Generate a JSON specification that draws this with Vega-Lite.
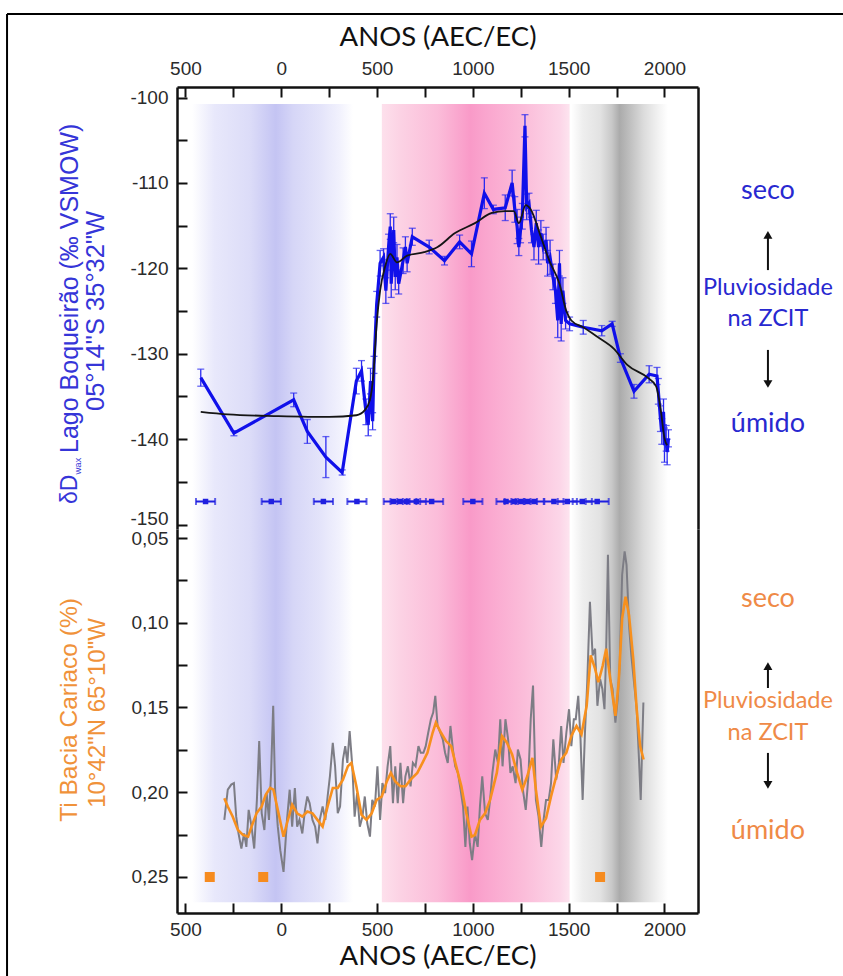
{
  "$schema": "https://vega.github.io/schema/vega-lite/v6.json",
  "autosize": {"type": "pad"},
  "padding": {"left": 6, "top": 12, "right": 0, "bottom": 0},
  "background": "white",
  "bounds": "flush",
  "spacing": 0,
  "config": {
    "view": {"stroke": null},
    "axis": {
      "labelFont": "Liberation Sans", "labelFontSize": 19, "labelColor": "#2b2b2b",
      "tickSize": -10, "tickWidth": 2, "tickColor": "#111111",
      "domainColor": "#111111", "domainWidth": 2.5, "grid": false,
      "labelFlush": false, "labelOverlap": false, "labelPadding": 19,
      "titleFont": "Lato", "titleFontSize": 27.5, "titleFontWeight": "normal", "titleColor": "#111111"
    }
  },
  "datasets": {
    "periods": [
      {"period": "blue", "year": -465, "year2": 375},
      {"period": "pink", "year": 525, "year2": 1505},
      {"period": "gray", "year": 1514, "year2": 2018}
    ],
    "delta": [
      {"year": -420, "d": -132.8, "err": 1.0}, {"year": -247, "d": -139.3, "err": 0.3}, {"year": 65, "d": -135.4, "err": 0.8},
      {"year": 136, "d": -139.1, "err": 1.4}, {"year": 233, "d": -142.1, "err": 2.4}, {"year": 318, "d": -143.9, "err": 0.3},
      {"year": 392, "d": -133.2, "err": 1.5}, {"year": 419, "d": -132.0, "err": 1.2}, {"year": 442, "d": -136.8, "err": 1.5},
      {"year": 454, "d": -138.3, "err": 1.3}, {"year": 466, "d": -133.2, "err": 1.5}, {"year": 477, "d": -137.9, "err": 1.0},
      {"year": 484, "d": -131.3, "err": 1.0}, {"year": 498, "d": -124.2, "err": 1.5}, {"year": 516, "d": -119.4, "err": 1.5},
      {"year": 534, "d": -118.7, "err": 1.0}, {"year": 546, "d": -122.6, "err": 1.5}, {"year": 560, "d": -117.5, "err": 1.5},
      {"year": 569, "d": -115.1, "err": 1.5}, {"year": 574, "d": -121.8, "err": 1.6}, {"year": 587, "d": -115.5, "err": 1.5},
      {"year": 595, "d": -121.0, "err": 1.5}, {"year": 604, "d": -118.7, "err": 1.5}, {"year": 613, "d": -121.8, "err": 1.2},
      {"year": 636, "d": -119.1, "err": 1.5}, {"year": 648, "d": -117.5, "err": 1.2}, {"year": 657, "d": -119.4, "err": 1.0},
      {"year": 684, "d": -116.3, "err": 1.0}, {"year": 772, "d": -117.5, "err": 0.8}, {"year": 852, "d": -119.1, "err": 0.5},
      {"year": 931, "d": -116.9, "err": 0.8}, {"year": 993, "d": -118.3, "err": 1.5}, {"year": 1060, "d": -111.2, "err": 1.8},
      {"year": 1107, "d": -113.1, "err": 0.5}, {"year": 1169, "d": -112.9, "err": 1.5}, {"year": 1205, "d": -110.0, "err": 1.5},
      {"year": 1219, "d": -113.1, "err": 1.5}, {"year": 1231, "d": -115.1, "err": 2.0}, {"year": 1240, "d": -117.5, "err": 1.0},
      {"year": 1249, "d": -115.5, "err": 1.5}, {"year": 1258, "d": -113.9, "err": 1.5}, {"year": 1272, "d": -103.3, "err": 1.3},
      {"year": 1281, "d": -112.8, "err": 1.5}, {"year": 1293, "d": -112.4, "err": 1.2}, {"year": 1306, "d": -115.5, "err": 1.5},
      {"year": 1319, "d": -117.5, "err": 1.5}, {"year": 1331, "d": -114.7, "err": 1.5}, {"year": 1343, "d": -117.5, "err": 2.0},
      {"year": 1355, "d": -115.9, "err": 1.5}, {"year": 1367, "d": -117.5, "err": 1.5}, {"year": 1382, "d": -116.7, "err": 1.5},
      {"year": 1390, "d": -119.4, "err": 1.5}, {"year": 1403, "d": -118.7, "err": 2.0}, {"year": 1418, "d": -121.0, "err": 1.5},
      {"year": 1431, "d": -122.6, "err": 1.5}, {"year": 1443, "d": -126.1, "err": 2.0}, {"year": 1452, "d": -119.4, "err": 1.5},
      {"year": 1461, "d": -126.5, "err": 2.0}, {"year": 1470, "d": -122.6, "err": 1.5}, {"year": 1484, "d": -126.1, "err": 1.0},
      {"year": 1505, "d": -126.5, "err": 0.8}, {"year": 1576, "d": -126.9, "err": 0.8}, {"year": 1673, "d": -127.3, "err": 0.6},
      {"year": 1727, "d": -126.5, "err": 0.3}, {"year": 1770, "d": -130.5, "err": 0.5}, {"year": 1841, "d": -134.4, "err": 0.8},
      {"year": 1920, "d": -132.4, "err": 1.0}, {"year": 1961, "d": -132.6, "err": 1.0}, {"year": 1968, "d": -134.4, "err": 1.5},
      {"year": 1979, "d": -137.6, "err": 1.5}, {"year": 1986, "d": -139.1, "err": 1.5}, {"year": 1995, "d": -136.8, "err": 1.5},
      {"year": 2000, "d": -140.7, "err": 2.0}, {"year": 2009, "d": -139.9, "err": 1.5}, {"year": 2014, "d": -141.5, "err": 1.5},
      {"year": 2021, "d": -139.9, "err": 1.0}
    ],
    "deltaFit": [
      {"year": -420, "d": -136.8}, {"year": -279, "d": -137.1}, {"year": -14, "d": -137.3}, {"year": 251, "d": -137.4},
      {"year": 392, "d": -137.2}, {"year": 436, "d": -136.6}, {"year": 463, "d": -135.4}, {"year": 481, "d": -132.4},
      {"year": 498, "d": -126.5}, {"year": 516, "d": -122.6}, {"year": 542, "d": -119.8}, {"year": 569, "d": -118.3},
      {"year": 604, "d": -119.3}, {"year": 657, "d": -118.5}, {"year": 746, "d": -118.1}, {"year": 816, "d": -117.5},
      {"year": 905, "d": -115.9}, {"year": 1011, "d": -114.7}, {"year": 1099, "d": -113.5}, {"year": 1169, "d": -113.3},
      {"year": 1214, "d": -113.3}, {"year": 1240, "d": -114.7}, {"year": 1276, "d": -112.6}, {"year": 1302, "d": -113.1},
      {"year": 1355, "d": -116.3}, {"year": 1399, "d": -119.1}, {"year": 1452, "d": -121.8}, {"year": 1488, "d": -125.0},
      {"year": 1514, "d": -126.1}, {"year": 1576, "d": -126.9}, {"year": 1655, "d": -128.1}, {"year": 1735, "d": -129.4},
      {"year": 1806, "d": -131.3}, {"year": 1912, "d": -132.8}, {"year": 1956, "d": -133.8}, {"year": 1982, "d": -136.8},
      {"year": 2000, "d": -139.9}, {"year": 2014, "d": -140.7}
    ],
    "ages": [
      {"year": -395, "lo": -445, "hi": -345}, {"year": -52, "lo": -102, "hi": -2}, {"year": 220, "lo": 170, "hi": 270},
      {"year": 395, "lo": 345, "hi": 445}, {"year": 585, "lo": 535, "hi": 635}, {"year": 620, "lo": 570, "hi": 670},
      {"year": 655, "lo": 605, "hi": 705}, {"year": 705, "lo": 655, "hi": 755}, {"year": 785, "lo": 725, "hi": 845},
      {"year": 1000, "lo": 950, "hi": 1050}, {"year": 1173, "lo": 1123, "hi": 1223}, {"year": 1216, "lo": 1166, "hi": 1266},
      {"year": 1251, "lo": 1201, "hi": 1301}, {"year": 1285, "lo": 1235, "hi": 1335}, {"year": 1320, "lo": 1270, "hi": 1370},
      {"year": 1423, "lo": 1373, "hi": 1473}, {"year": 1493, "lo": 1443, "hi": 1543}, {"year": 1571, "lo": 1521, "hi": 1621},
      {"year": 1649, "lo": 1589, "hi": 1709}
    ],
    "tiRaw": [
      {"year": -297, "ti": 0.2163}, {"year": -279, "ti": 0.1985}, {"year": -261, "ti": 0.1955}, {"year": -247, "ti": 0.1946},
      {"year": -235, "ti": 0.2144}, {"year": -223, "ti": 0.2243}, {"year": -208, "ti": 0.2332}, {"year": -194, "ti": 0.2243},
      {"year": -182, "ti": 0.2322}, {"year": -170, "ti": 0.2104}, {"year": -155, "ti": 0.2203}, {"year": -141, "ti": 0.2332},
      {"year": -127, "ti": 0.2045}, {"year": -115, "ti": 0.1698}, {"year": -102, "ti": 0.2124}, {"year": -88, "ti": 0.2223},
      {"year": -76, "ti": 0.2005}, {"year": -64, "ti": 0.2163}, {"year": -53, "ti": 0.1886}, {"year": -42, "ti": 0.1490},
      {"year": -32, "ti": 0.1985}, {"year": -18, "ti": 0.2203}, {"year": -5, "ti": 0.2342}, {"year": 12, "ti": 0.2470},
      {"year": 30, "ti": 0.2163}, {"year": 44, "ti": 0.1985}, {"year": 57, "ti": 0.2203}, {"year": 71, "ti": 0.1975},
      {"year": 83, "ti": 0.2203}, {"year": 95, "ti": 0.2163}, {"year": 110, "ti": 0.2243}, {"year": 124, "ti": 0.2104},
      {"year": 136, "ti": 0.2025}, {"year": 148, "ti": 0.2064}, {"year": 163, "ti": 0.2163}, {"year": 177, "ti": 0.2203},
      {"year": 189, "ti": 0.2302}, {"year": 201, "ti": 0.2163}, {"year": 216, "ti": 0.2084}, {"year": 230, "ti": 0.2163},
      {"year": 242, "ti": 0.2025}, {"year": 254, "ti": 0.1906}, {"year": 269, "ti": 0.1708}, {"year": 281, "ti": 0.1847},
      {"year": 295, "ti": 0.2124}, {"year": 307, "ti": 0.2084}, {"year": 322, "ti": 0.1807}, {"year": 334, "ti": 0.1728},
      {"year": 345, "ti": 0.1827}, {"year": 357, "ti": 0.1639}, {"year": 371, "ti": 0.1847}, {"year": 383, "ti": 0.2144},
      {"year": 396, "ti": 0.2005}, {"year": 410, "ti": 0.2203}, {"year": 424, "ti": 0.2144}, {"year": 436, "ti": 0.2025},
      {"year": 449, "ti": 0.2183}, {"year": 463, "ti": 0.2262}, {"year": 475, "ti": 0.2045}, {"year": 489, "ti": 0.2084},
      {"year": 502, "ti": 0.1847}, {"year": 516, "ti": 0.2163}, {"year": 528, "ti": 0.1946}, {"year": 542, "ti": 0.2005},
      {"year": 555, "ti": 0.1847}, {"year": 569, "ti": 0.1728}, {"year": 583, "ti": 0.2064}, {"year": 595, "ti": 0.1847},
      {"year": 608, "ti": 0.2064}, {"year": 622, "ti": 0.1827}, {"year": 636, "ti": 0.2064}, {"year": 648, "ti": 0.1906},
      {"year": 661, "ti": 0.1847}, {"year": 675, "ti": 0.1965}, {"year": 687, "ti": 0.1827}, {"year": 701, "ti": 0.1847},
      {"year": 716, "ti": 0.1728}, {"year": 728, "ti": 0.1767}, {"year": 742, "ti": 0.1767}, {"year": 754, "ti": 0.1728},
      {"year": 767, "ti": 0.1649}, {"year": 781, "ti": 0.1569}, {"year": 793, "ti": 0.1530}, {"year": 804, "ti": 0.1431},
      {"year": 816, "ti": 0.1609}, {"year": 830, "ti": 0.1649}, {"year": 843, "ti": 0.1688}, {"year": 855, "ti": 0.1767},
      {"year": 869, "ti": 0.1827}, {"year": 883, "ti": 0.1609}, {"year": 896, "ti": 0.1748}, {"year": 908, "ti": 0.1847},
      {"year": 922, "ti": 0.1886}, {"year": 936, "ti": 0.1985}, {"year": 949, "ti": 0.2084}, {"year": 961, "ti": 0.2322},
      {"year": 972, "ti": 0.2084}, {"year": 984, "ti": 0.2302}, {"year": 996, "ti": 0.2401}, {"year": 1011, "ti": 0.2243},
      {"year": 1025, "ti": 0.2322}, {"year": 1037, "ti": 0.2084}, {"year": 1049, "ti": 0.1906}, {"year": 1064, "ti": 0.2124},
      {"year": 1078, "ti": 0.2163}, {"year": 1090, "ti": 0.2045}, {"year": 1102, "ti": 0.1886}, {"year": 1117, "ti": 0.1748},
      {"year": 1131, "ti": 0.1827}, {"year": 1143, "ti": 0.1569}, {"year": 1155, "ti": 0.1847}, {"year": 1170, "ti": 0.1569},
      {"year": 1184, "ti": 0.1688}, {"year": 1196, "ti": 0.1886}, {"year": 1208, "ti": 0.1847}, {"year": 1223, "ti": 0.1946},
      {"year": 1235, "ti": 0.1748}, {"year": 1249, "ti": 0.1807}, {"year": 1261, "ti": 0.1985}, {"year": 1276, "ti": 0.2104},
      {"year": 1290, "ti": 0.1906}, {"year": 1302, "ti": 0.1569}, {"year": 1314, "ti": 0.1371}, {"year": 1329, "ti": 0.2045},
      {"year": 1343, "ti": 0.2144}, {"year": 1357, "ti": 0.2322}, {"year": 1369, "ti": 0.2163}, {"year": 1382, "ti": 0.2045},
      {"year": 1396, "ti": 0.2045}, {"year": 1408, "ti": 0.1946}, {"year": 1420, "ti": 0.1688}, {"year": 1435, "ti": 0.1926},
      {"year": 1449, "ti": 0.1827}, {"year": 1461, "ti": 0.1609}, {"year": 1473, "ti": 0.1827}, {"year": 1488, "ti": 0.1649},
      {"year": 1502, "ti": 0.1510}, {"year": 1514, "ti": 0.1728}, {"year": 1527, "ti": 0.1569}, {"year": 1537, "ti": 0.1569},
      {"year": 1550, "ti": 0.1431}, {"year": 1562, "ti": 0.1688}, {"year": 1573, "ti": 0.2045}, {"year": 1585, "ti": 0.1649},
      {"year": 1597, "ti": 0.1351}, {"year": 1611, "ti": 0.0876}, {"year": 1625, "ti": 0.1193}, {"year": 1638, "ti": 0.1153},
      {"year": 1650, "ti": 0.1490}, {"year": 1664, "ti": 0.1332}, {"year": 1676, "ti": 0.1391}, {"year": 1687, "ti": 0.1510},
      {"year": 1696, "ti": 0.1153}, {"year": 1705, "ti": 0.0599}, {"year": 1717, "ti": 0.1332}, {"year": 1729, "ti": 0.1391},
      {"year": 1744, "ti": 0.1589}, {"year": 1756, "ti": 0.1450}, {"year": 1767, "ti": 0.1233}, {"year": 1779, "ti": 0.0718},
      {"year": 1792, "ti": 0.0579}, {"year": 1802, "ti": 0.0658}, {"year": 1815, "ti": 0.1015}, {"year": 1827, "ti": 0.1193},
      {"year": 1841, "ti": 0.1351}, {"year": 1855, "ti": 0.1510}, {"year": 1867, "ti": 0.1807}, {"year": 1876, "ti": 0.2045},
      {"year": 1890, "ti": 0.1470}
    ],
    "tiFit": [
      {"year": -297, "ti": 0.2035}, {"year": -279, "ti": 0.2084}, {"year": -253, "ti": 0.2144}, {"year": -226, "ti": 0.2223},
      {"year": -200, "ti": 0.2252}, {"year": -173, "ti": 0.2262}, {"year": -155, "ti": 0.2203}, {"year": -129, "ti": 0.2124},
      {"year": -102, "ti": 0.2084}, {"year": -81, "ti": 0.2015}, {"year": -58, "ti": 0.1975}, {"year": -41, "ti": 0.1985},
      {"year": -14, "ti": 0.2124}, {"year": 12, "ti": 0.2262}, {"year": 30, "ti": 0.2183}, {"year": 57, "ti": 0.2074},
      {"year": 83, "ti": 0.2124}, {"year": 110, "ti": 0.2144}, {"year": 136, "ti": 0.2114}, {"year": 163, "ti": 0.2124},
      {"year": 189, "ti": 0.2163}, {"year": 216, "ti": 0.2203}, {"year": 242, "ti": 0.2084}, {"year": 269, "ti": 0.1975},
      {"year": 295, "ti": 0.1975}, {"year": 322, "ti": 0.1926}, {"year": 348, "ti": 0.1846}, {"year": 366, "ti": 0.1827},
      {"year": 392, "ti": 0.1965}, {"year": 419, "ti": 0.2134}, {"year": 445, "ti": 0.2163}, {"year": 472, "ti": 0.2124},
      {"year": 498, "ti": 0.2045}, {"year": 525, "ti": 0.2025}, {"year": 551, "ti": 0.1936}, {"year": 572, "ti": 0.1886},
      {"year": 595, "ti": 0.1936}, {"year": 622, "ti": 0.1965}, {"year": 648, "ti": 0.1965}, {"year": 675, "ti": 0.1926},
      {"year": 710, "ti": 0.1886}, {"year": 737, "ti": 0.1827}, {"year": 763, "ti": 0.1767}, {"year": 790, "ti": 0.1649},
      {"year": 807, "ti": 0.1589}, {"year": 834, "ti": 0.1649}, {"year": 860, "ti": 0.1698}, {"year": 887, "ti": 0.1728},
      {"year": 913, "ti": 0.1846}, {"year": 940, "ti": 0.1965}, {"year": 966, "ti": 0.2124}, {"year": 993, "ti": 0.2262},
      {"year": 1011, "ti": 0.2252}, {"year": 1037, "ti": 0.2163}, {"year": 1064, "ti": 0.2124}, {"year": 1090, "ti": 0.2045},
      {"year": 1125, "ti": 0.1886}, {"year": 1152, "ti": 0.1668}, {"year": 1178, "ti": 0.1708}, {"year": 1205, "ti": 0.1777},
      {"year": 1231, "ti": 0.1886}, {"year": 1258, "ti": 0.1985}, {"year": 1284, "ti": 0.1906}, {"year": 1311, "ti": 0.1797},
      {"year": 1329, "ti": 0.1985}, {"year": 1355, "ti": 0.2203}, {"year": 1382, "ti": 0.2154}, {"year": 1408, "ti": 0.2025},
      {"year": 1435, "ti": 0.1906}, {"year": 1461, "ti": 0.1807}, {"year": 1488, "ti": 0.1767}, {"year": 1514, "ti": 0.1668},
      {"year": 1541, "ti": 0.1609}, {"year": 1567, "ti": 0.1658}, {"year": 1594, "ti": 0.1490}, {"year": 1615, "ti": 0.1193},
      {"year": 1638, "ti": 0.1272}, {"year": 1655, "ti": 0.1351}, {"year": 1678, "ti": 0.1252}, {"year": 1696, "ti": 0.1153},
      {"year": 1717, "ti": 0.1332}, {"year": 1744, "ti": 0.1549}, {"year": 1761, "ti": 0.1351}, {"year": 1779, "ti": 0.0975},
      {"year": 1797, "ti": 0.0847}, {"year": 1815, "ti": 0.0955}, {"year": 1837, "ti": 0.1213}, {"year": 1855, "ti": 0.1510},
      {"year": 1873, "ti": 0.1728}, {"year": 1891, "ti": 0.1807}
    ],
    "tiAges": [{"year": -373}, {"year": -94}, {"year": 1664}]
  },
  "vconcat": [
    {
      "width": 521,
      "height": 442,
      "resolve": {"axis": {"y": "independent"}},
      "layer": [
        {
          "layer": [
            {
              "data": {"name": "periods"},
              "transform": [{"filter": "datum.period === 'blue'"}],
              "mark": {"type": "rect", "fill": {"gradient": "linear", "x1": 0, "y1": 0, "x2": 1, "y2": 0, "stops": [
                {"offset": 0, "color": "#ffffff"}, {"offset": 0.14, "color": "#e8e8fb"}, {"offset": 0.36, "color": "#dcdcf8"},
                {"offset": 0.52, "color": "#c4c4f3"}, {"offset": 0.63, "color": "#d6d6f7"}, {"offset": 0.8, "color": "#e4e4fa"},
                {"offset": 0.92, "color": "#f2f2fd"}, {"offset": 1, "color": "#ffffff"}]}},
              "encoding": {
                "x": {"field": "year", "type": "quantitative", "scale": {"domain": [-544, 2175], "nice": false, "zero": false},
                  "axis": {"orient": "top", "values": [-500, -250, 0, 250, 500, 750, 1000, 1250, 1500, 1750, 2000],
                    "labelExpr": "datum.value % 500 === 0 ? '' + abs(datum.value) : ''", "title": "ANOS (AEC/EC)", "titlePadding": 8}},
                "x2": {"field": "year2"},
                "y": {"datum": -100.75, "type": "quantitative", "scale": {"domain": [-150.52, -98.76], "nice": false, "zero": false},
                  "axis": {"orient": "left", "values": [-150, -145, -140, -135, -130, -125, -120, -115, -110, -105, -100],
                    "labelExpr": "datum.value % 10 === 0 ? '' + datum.value : ''", "title": null,
                    "labelBaseline": {"condition": {"test": "datum.value === -150", "value": "alphabetic"}, "value": "middle"}}},
                "y2": {"datum": -150.52}
              }
            },
            {
              "data": {"name": "periods"},
              "transform": [{"filter": "datum.period === 'pink'"}],
              "mark": {"type": "rect", "fill": {"gradient": "linear", "x1": 0, "y1": 0, "x2": 1, "y2": 0, "stops": [
                {"offset": 0, "color": "#fde0ec"}, {"offset": 0.1, "color": "#fcd2e4"}, {"offset": 0.3, "color": "#fbbcd9"},
                {"offset": 0.47, "color": "#f99ac8"}, {"offset": 0.55, "color": "#faa5ce"}, {"offset": 0.75, "color": "#fbbcd9"},
                {"offset": 0.95, "color": "#fcd6e8"}, {"offset": 1, "color": "#fde4ef"}]}},
              "encoding": {"x": {"field": "year", "type": "quantitative"}, "x2": {"field": "year2"}, "y": {"datum": -100.75}, "y2": {"datum": -150.52}}
            },
            {
              "data": {"name": "periods"},
              "transform": [{"filter": "datum.period === 'gray'"}],
              "mark": {"type": "rect", "fill": {"gradient": "linear", "x1": 0, "y1": 0, "x2": 1, "y2": 0, "stops": [
                {"offset": 0, "color": "#ffffff"}, {"offset": 0.12, "color": "#eeeeee"}, {"offset": 0.3, "color": "#e2e2e2"},
                {"offset": 0.42, "color": "#c8c8c8"}, {"offset": 0.5, "color": "#ababab"}, {"offset": 0.58, "color": "#bababa"},
                {"offset": 0.75, "color": "#dcdcdc"}, {"offset": 0.9, "color": "#f2f2f2"}, {"offset": 1, "color": "#ffffff"}]}},
              "encoding": {"x": {"field": "year", "type": "quantitative"}, "x2": {"field": "year2"}, "y": {"datum": -100.75}, "y2": {"datum": -150.52}}
            },
            {
              "data": {"name": "delta"},
              "mark": {"type": "errorbar", "color": "#2a2af0", "thickness": 1.3, "ticks": {"size": 7}},
              "encoding": {
                "x": {"field": "year", "type": "quantitative"},
                "y": {"field": "d", "type": "quantitative"},
                "yError": {"field": "err"}
              }
            },
            {
              "data": {"name": "delta"},
              "mark": {"type": "line", "color": "#1010ea", "strokeWidth": 3.2},
              "encoding": {"x": {"field": "year", "type": "quantitative"}, "y": {"field": "d", "type": "quantitative"}}
            },
            {
              "data": {"name": "deltaFit"},
              "mark": {"type": "line", "color": "#151515", "strokeWidth": 1.8, "interpolate": "monotone"},
              "encoding": {"x": {"field": "year", "type": "quantitative"}, "y": {"field": "d", "type": "quantitative"}}
            },
            {
              "data": {"name": "ages"},
              "mark": {"type": "rule", "color": "#1f1fe0", "strokeWidth": 2},
              "encoding": {"x": {"field": "lo", "type": "quantitative"}, "x2": {"field": "hi"}, "y": {"datum": -147.3}}
            },
            {
              "data": {"name": "ages"},
              "mark": {"type": "tick", "orient": "vertical", "color": "#1f1fe0", "size": 7, "thickness": 2},
              "encoding": {"x": {"field": "lo", "type": "quantitative"}, "y": {"datum": -147.3}}
            },
            {
              "data": {"name": "ages"},
              "mark": {"type": "tick", "orient": "vertical", "color": "#1f1fe0", "size": 7, "thickness": 2},
              "encoding": {"x": {"field": "hi", "type": "quantitative"}, "y": {"datum": -147.3}}
            },
            {
              "data": {"name": "ages"},
              "mark": {"type": "square", "color": "#1f1fe0", "size": 30, "filled": true, "opacity": 1},
              "encoding": {"x": {"field": "year", "type": "quantitative"}, "y": {"datum": -147.3}}
            },
            {
              "data": {"values": [{}]},
              "mark": {"type": "text", "text": "seco", "font": "Lato", "fontSize": 27, "color": "#2828d0", "align": "center", "baseline": "middle"},
              "encoding": {"x": {"datum": 2540}, "y": {"datum": -110.94}}
            },
            {
              "data": {"values": [{}]},
              "mark": {"type": "text", "text": "Pluviosidade", "font": "Lato", "fontSize": 23.5, "color": "#2828d0", "align": "center", "baseline": "middle"},
              "encoding": {"x": {"datum": 2540}, "y": {"datum": -122.3}}
            },
            {
              "data": {"values": [{}]},
              "mark": {"type": "text", "text": "na ZCIT", "font": "Lato", "fontSize": 23.5, "color": "#2828d0", "align": "center", "baseline": "middle"},
              "encoding": {"x": {"datum": 2540}, "y": {"datum": -125.93}}
            },
            {
              "data": {"values": [{}]},
              "mark": {"type": "text", "text": "úmido", "font": "Lato", "fontSize": 27, "color": "#2828d0", "align": "center", "baseline": "middle"},
              "encoding": {"x": {"datum": 2540}, "y": {"datum": -138.22}}
            },
            {
              "data": {"values": [{}]},
              "mark": {"type": "rule", "color": "#111111", "strokeWidth": 2},
              "encoding": {"x": {"datum": 2540}, "y": {"datum": -116.4}, "y2": {"datum": -120.2}}
            },
            {
              "data": {"values": [{}]},
              "mark": {"type": "point", "shape": "triangle-up", "filled": true, "color": "#111111", "size": 80, "opacity": 1},
              "encoding": {"x": {"datum": 2540}, "y": {"datum": -116.09}}
            },
            {
              "data": {"values": [{}]},
              "mark": {"type": "rule", "color": "#111111", "strokeWidth": 2},
              "encoding": {"x": {"datum": 2540}, "y": {"datum": -129.55}, "y2": {"datum": -133.3}}
            },
            {
              "data": {"values": [{}]},
              "mark": {"type": "point", "shape": "triangle-down", "filled": true, "color": "#111111", "size": 80, "opacity": 1},
              "encoding": {"x": {"datum": 2540}, "y": {"datum": -133.54}}
            },
            {
              "data": {"values": [{}]},
              "mark": {"type": "text", "text": "δD", "font": "Liberation Sans", "fontSize": 23, "color": "#3535d8", "angle": 270, "align": "left", "baseline": "middle"},
              "encoding": {"x": {"datum": -1102}, "y": {"datum": -147.59}}
            },
            {
              "data": {"values": [{}]},
              "mark": {"type": "text", "text": "wax", "font": "Liberation Sans", "fontSize": 9.5, "color": "#3535d8", "angle": 270, "align": "left", "baseline": "middle"},
              "encoding": {"x": {"datum": -1060}, "y": {"datum": -144.15}}
            },
            {
              "data": {"values": [{}]},
              "mark": {"type": "text", "text": "Lago Boqueirão (‰ VSMOW)", "font": "Liberation Sans", "fontSize": 25, "color": "#3535d8", "angle": 270, "align": "left", "baseline": "middle"},
              "encoding": {"x": {"datum": -1102}, "y": {"datum": -141.62}}
            },
            {
              "data": {"values": [{}]},
              "mark": {"type": "text", "text": "05°14\"S 35°32\"W", "font": "Liberation Sans", "fontSize": 25.5, "color": "#3535d8", "angle": 270, "align": "center", "baseline": "middle"},
              "encoding": {"x": {"datum": -967}, "y": {"datum": -124.99}}
            },
            {
              "data": {"values": [{}]},
              "mark": {"type": "rule", "color": "#000000", "strokeWidth": 2},
              "encoding": {"x": {"datum": -1431}, "y": {"datum": -90.21}, "y2": {"datum": -202.99}}
            },
            {
              "data": {"values": [{}]},
              "mark": {"type": "rule", "color": "#000000", "strokeWidth": 2},
              "encoding": {"x": {"datum": -1431}, "x2": {"datum": 2932}, "y": {"datum": -90.21}}
            }
          ]
        },
        {
          "data": {"name": "delta"},
          "mark": {"type": "point", "opacity": 0},
          "encoding": {
            "x": {"field": "year", "type": "quantitative"},
            "y": {"field": "d", "type": "quantitative", "axis": {"orient": "right", "labels": false, "ticks": false, "title": null}}
          }
        }
      ]
    },
    {
      "width": 521,
      "height": 384,
      "resolve": {"axis": {"y": "independent"}},
      "layer": [
        {
          "layer": [
            {
              "data": {"name": "periods"},
              "transform": [{"filter": "datum.period === 'blue'"}],
              "mark": {"type": "rect", "fill": {"gradient": "linear", "x1": 0, "y1": 0, "x2": 1, "y2": 0, "stops": [
                {"offset": 0, "color": "#ffffff"}, {"offset": 0.14, "color": "#e8e8fb"}, {"offset": 0.36, "color": "#dcdcf8"},
                {"offset": 0.52, "color": "#c4c4f3"}, {"offset": 0.63, "color": "#d6d6f7"}, {"offset": 0.8, "color": "#e4e4fa"},
                {"offset": 0.92, "color": "#f2f2fd"}, {"offset": 1, "color": "#ffffff"}]}},
              "encoding": {
                "x": {"field": "year", "type": "quantitative", "scale": {"domain": [-544, 2175], "nice": false, "zero": false},
                  "axis": {"orient": "bottom", "values": [-500, -250, 0, 250, 500, 750, 1000, 1250, 1500, 1750, 2000],
                    "labelExpr": "datum.value % 500 === 0 ? '' + abs(datum.value) : ''", "title": "ANOS (AEC/EC)", "titlePadding": 3, "labelPadding": 17}},
                "x2": {"field": "year2"},
                "y": {"datum": 0.04469, "type": "quantitative", "scale": {"domain": [0.04469, 0.27124], "reverse": true, "nice": false, "zero": false},
                  "axis": {"orient": "left", "values": [0.05, 0.075, 0.1, 0.125, 0.15, 0.175, 0.2, 0.225, 0.25],
                    "labelExpr": "abs(datum.value * 20 - round(datum.value * 20)) < 0.01 ? replace(format(datum.value, '.2f'), '.', ',') : ''", "title": null}},
                "y2": {"datum": 0.2649}
              }
            },
            {
              "data": {"name": "periods"},
              "transform": [{"filter": "datum.period === 'pink'"}],
              "mark": {"type": "rect", "fill": {"gradient": "linear", "x1": 0, "y1": 0, "x2": 1, "y2": 0, "stops": [
                {"offset": 0, "color": "#fde0ec"}, {"offset": 0.1, "color": "#fcd2e4"}, {"offset": 0.3, "color": "#fbbcd9"},
                {"offset": 0.47, "color": "#f99ac8"}, {"offset": 0.55, "color": "#faa5ce"}, {"offset": 0.75, "color": "#fbbcd9"},
                {"offset": 0.95, "color": "#fcd6e8"}, {"offset": 1, "color": "#fde4ef"}]}},
              "encoding": {"x": {"field": "year", "type": "quantitative"}, "x2": {"field": "year2"}, "y": {"datum": 0.04469}, "y2": {"datum": 0.2649}}
            },
            {
              "data": {"name": "periods"},
              "transform": [{"filter": "datum.period === 'gray'"}],
              "mark": {"type": "rect", "fill": {"gradient": "linear", "x1": 0, "y1": 0, "x2": 1, "y2": 0, "stops": [
                {"offset": 0, "color": "#ffffff"}, {"offset": 0.12, "color": "#eeeeee"}, {"offset": 0.3, "color": "#e2e2e2"},
                {"offset": 0.42, "color": "#c8c8c8"}, {"offset": 0.5, "color": "#ababab"}, {"offset": 0.58, "color": "#bababa"},
                {"offset": 0.75, "color": "#dcdcdc"}, {"offset": 0.9, "color": "#f2f2f2"}, {"offset": 1, "color": "#ffffff"}]}},
              "encoding": {"x": {"field": "year", "type": "quantitative"}, "x2": {"field": "year2"}, "y": {"datum": 0.04469}, "y2": {"datum": 0.2649}}
            },
            {
              "data": {"name": "tiRaw"},
              "mark": {"type": "line", "color": "#7d7d85", "strokeWidth": 2},
              "encoding": {"x": {"field": "year", "type": "quantitative"}, "y": {"field": "ti", "type": "quantitative"}}
            },
            {
              "data": {"name": "tiFit"},
              "mark": {"type": "line", "color": "#f7901e", "strokeWidth": 2.6},
              "encoding": {"x": {"field": "year", "type": "quantitative"}, "y": {"field": "ti", "type": "quantitative"}}
            },
            {
              "data": {"name": "tiAges"},
              "mark": {"type": "square", "color": "#f68b1f", "size": 100, "filled": true, "opacity": 1},
              "encoding": {"x": {"field": "year", "type": "quantitative"}, "y": {"datum": 0.25}}
            },
            {
              "data": {"values": [{}]},
              "mark": {"type": "text", "text": "seco", "font": "Lato", "fontSize": 27, "color": "#ef8a47", "align": "center", "baseline": "middle"},
              "encoding": {"x": {"datum": 2540}, "y": {"datum": 0.08599}}
            },
            {
              "data": {"values": [{}]},
              "mark": {"type": "text", "text": "Pluviosidade", "font": "Lato", "fontSize": 23.5, "color": "#ef8a47", "align": "center", "baseline": "middle"},
              "encoding": {"x": {"datum": 2540}, "y": {"datum": 0.14617}}
            },
            {
              "data": {"values": [{}]},
              "mark": {"type": "text", "text": "na ZCIT", "font": "Lato", "fontSize": 23.5, "color": "#ef8a47", "align": "center", "baseline": "middle"},
              "encoding": {"x": {"datum": 2540}, "y": {"datum": 0.16504}}
            },
            {
              "data": {"values": [{}]},
              "mark": {"type": "text", "text": "úmido", "font": "Lato", "fontSize": 27, "color": "#ef8a47", "align": "center", "baseline": "middle"},
              "encoding": {"x": {"datum": 2540}, "y": {"datum": 0.22286}}
            },
            {
              "data": {"values": [{}]},
              "mark": {"type": "rule", "color": "#111111", "strokeWidth": 2},
              "encoding": {"x": {"datum": 2540}, "y": {"datum": 0.1265}, "y2": {"datum": 0.1385}}
            },
            {
              "data": {"values": [{}]},
              "mark": {"type": "point", "shape": "triangle-up", "filled": true, "color": "#111111", "size": 80, "opacity": 1},
              "encoding": {"x": {"datum": 2540}, "y": {"datum": 0.12552}}
            },
            {
              "data": {"values": [{}]},
              "mark": {"type": "rule", "color": "#111111", "strokeWidth": 2},
              "encoding": {"x": {"datum": 2540}, "y": {"datum": 0.1768}, "y2": {"datum": 0.1945}}
            },
            {
              "data": {"values": [{}]},
              "mark": {"type": "point", "shape": "triangle-down", "filled": true, "color": "#111111", "size": 80, "opacity": 1},
              "encoding": {"x": {"datum": 2540}, "y": {"datum": 0.19572}}
            },
            {
              "data": {"values": [{}]},
              "mark": {"type": "text", "text": "Ti Bacia Cariaco (%)", "font": "Liberation Sans", "fontSize": 24.5, "color": "#f0923a", "angle": 270, "align": "center", "baseline": "middle"},
              "encoding": {"x": {"datum": -1102}, "y": {"datum": 0.15148}}
            },
            {
              "data": {"values": [{}]},
              "mark": {"type": "text", "text": "10°42\"N 65°10\"W", "font": "Liberation Sans", "fontSize": 24, "color": "#f0923a", "angle": 270, "align": "center", "baseline": "middle"},
              "encoding": {"x": {"datum": -956}, "y": {"datum": 0.15325}}
            }
          ]
        },
        {
          "data": {"name": "tiRaw"},
          "mark": {"type": "point", "opacity": 0},
          "encoding": {
            "x": {"field": "year", "type": "quantitative"},
            "y": {"field": "ti", "type": "quantitative", "axis": {"orient": "right", "labels": false, "ticks": false, "title": null}}
          }
        }
      ]
    }
  ],
  "resolve": {"scale": {"x": "independent", "y": "independent"}}
}
